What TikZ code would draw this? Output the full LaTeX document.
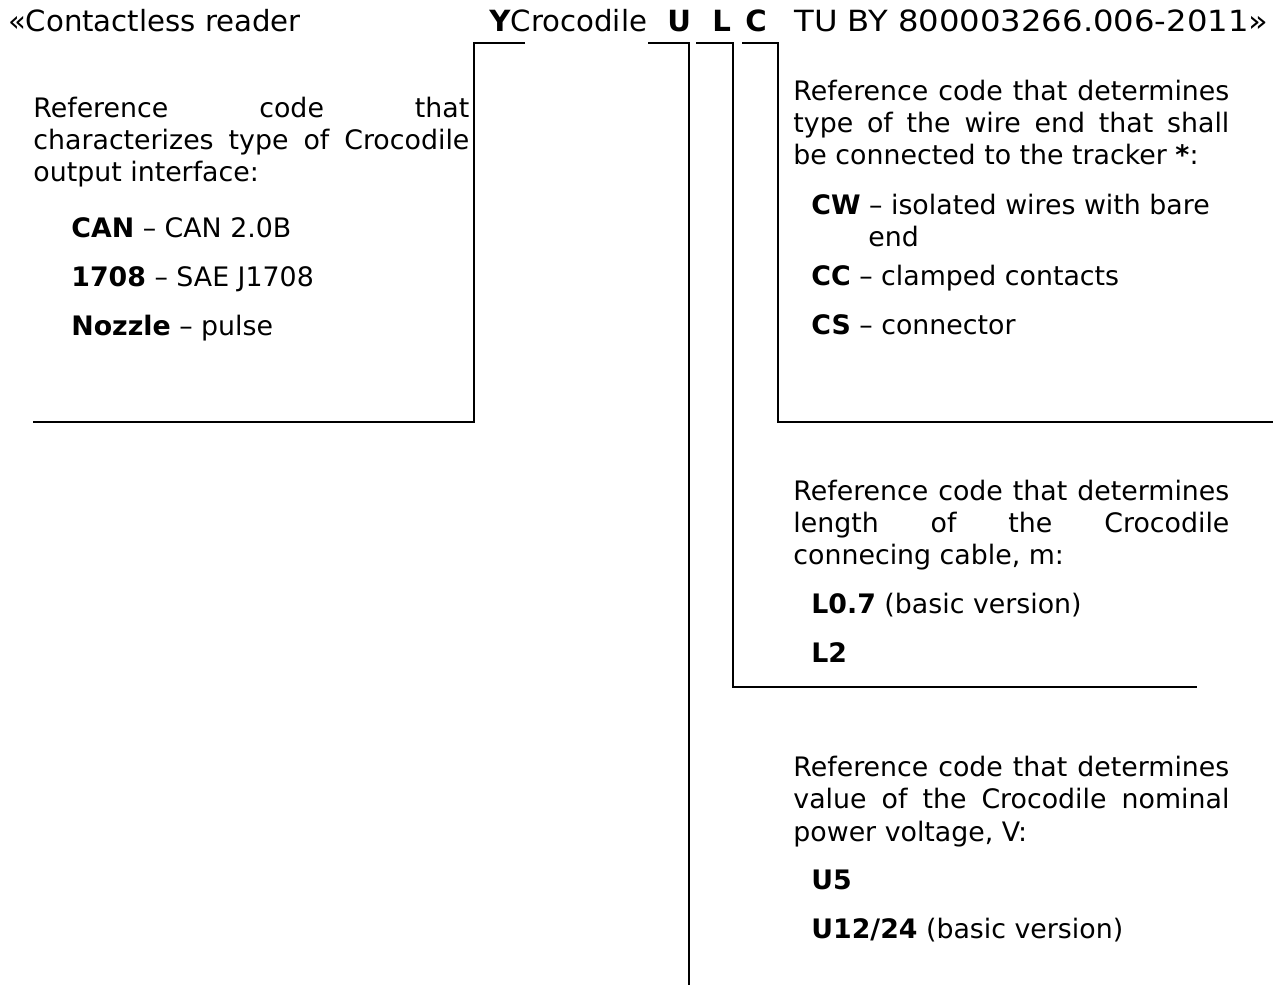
\documentclass[tikz,border=0pt]{standalone}
\usepackage{fontspec}
\setmainfont{DejaVu Sans}
\newcommand{\jline}[1]{\makebox[218pt][s]{#1}}
\begin{document}
\begin{tikzpicture}[x=0.5pt,y=-0.5pt,
  txt/.style={anchor=base west,inner sep=0pt,font=\fontsize{13.4}{16}\selectfont},
  ttl/.style={anchor=base west,inner sep=0pt,font=\fontsize{14.6}{18}\selectfont},
  ln/.style={line width=1pt}]
\useasboundingbox (0,0) rectangle (1277,985);
% title line
\node[ttl] (t1) at (8,32) {«Contactless reader};
\node[ttl] (t2) at (489,32) {\textbf{Y}Crocodile};
\node[ttl] (t3) at (667,32) {\textbf{U}};
\node[ttl] (t4) at (712,32) {\textbf{L}};
\node[ttl] (t5) at (745,32) {\textbf{C}};
\node[ttl] (t6) at (794,32) {\scalebox{1.105}[1]{TU BY 800003266.006-2011»}};
% left block
\node[txt] (a1) at (33,117) {\jline{Reference code that}};
\node[txt] (a2) at (33,149) {\jline{characterizes type of Crocodile}};
\node[txt] (a3) at (33,181) {output interface:};
\node[txt] (a4) at (71,237) {\textbf{CAN} – CAN 2.0B};
\node[txt] (a5) at (71,286) {\textbf{1708} – SAE J1708};
\node[txt] (a6) at (71,335) {\textbf{Nozzle} – pulse};
% C block
\node[txt] (c1) at (793,100) {\jline{Reference code that determines}};
\node[txt] (c2) at (793,132) {\jline{type of the wire end that shall}};
\node[txt] (c3) at (793,164) {be connected to the tracker \textbf{*}:};
\node[txt] (c4) at (811,214) {\textbf{CW} – isolated wires with bare};
\node[txt] (c5) at (868,246) {end};
\node[txt] (c6) at (811,285) {\textbf{CC} – clamped contacts};
\node[txt] (c7) at (811,334) {\textbf{CS} – connector};
% L block
\node[txt] (l1) at (793,500) {\jline{Reference code that determines}};
\node[txt] (l2) at (793,532) {\jline{length of the Crocodile}};
\node[txt] (l3) at (793,564) {connecing cable, m:};
\node[txt] (l4) at (811,613) {\textbf{L0.7} (basic version)};
\node[txt] (l5) at (811,662) {\textbf{L2}};
% U block
\node[txt] (u1) at (793,776) {\jline{Reference code that determines}};
\node[txt] (u2) at (793,808) {\jline{value of the Crocodile nominal}};
\node[txt] (u3) at (793,841) {power voltage, V:};
\node[txt] (u4) at (811,889) {\textbf{U5}};
\node[txt] (u5) at (811,938) {\textbf{U12/24} (basic version)};
% bracket lines
\coordinate (y1) at (525,43); \coordinate (y2) at (474,43);
\coordinate (y3) at (474,422); \coordinate (y4) at (33,422);
\draw[ln] (y1) -- (y2) -- (y3) -- (y4);
\coordinate (ua) at (648,43); \coordinate (ub) at (689,43);
\coordinate (uc) at (689,985);
\draw[ln] (ua) -- (ub) -- (uc);
\coordinate (la) at (696,43); \coordinate (lb) at (733,43);
\coordinate (lc) at (733,687); \coordinate (ld) at (1197,687);
\draw[ln] (la) -- (lb) -- (lc) -- (ld);
\coordinate (ca) at (742,43); \coordinate (cb) at (778,43);
\coordinate (cc) at (778,422); \coordinate (cd) at (1273,422);
\draw[ln] (ca) -- (cb) -- (cc) -- (cd);
\end{tikzpicture}
\end{document}
